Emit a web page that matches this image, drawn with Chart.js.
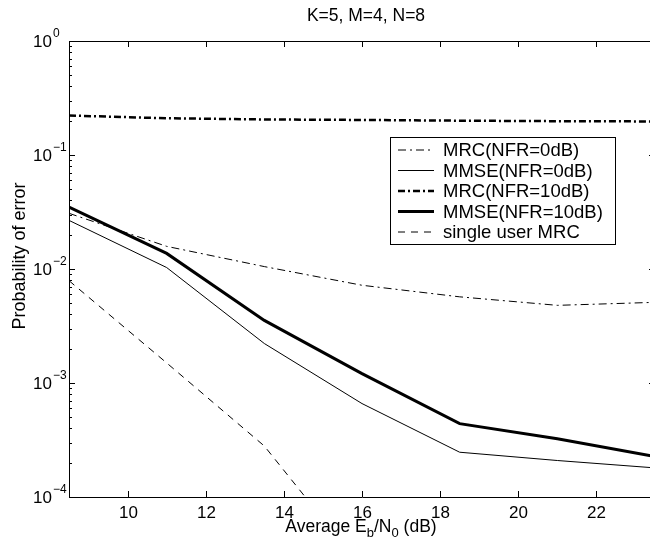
<!DOCTYPE html>
<html>
<head>
<meta charset="utf-8">
<script src="https://cdn.jsdelivr.net/npm/chart.js@4.4.1/dist/chart.umd.min.js"></script>
<style>
  html, body { margin: 0; padding: 0; background: #fff; overflow: hidden; }
  #wrap { width: 662px; height: 540px; }
</style>
</head>
<body>
<div id="wrap"><canvas id="berChart"></canvas></div>
<script>
// Eb/N0 points (dB)
const ebn0 = [8.5, 11, 13.5, 16, 18.5, 21, 23.5];

// probability of error per receiver
const mrcNfr0 = [0.0308, 0.0158, 0.0105, 0.0072, 0.0057, 0.0048, 0.0051];
const mmseNfr0 = [0.0267, 0.0103, 0.00222, 0.00066, 0.000247, 0.000209, 0.00018];
const mrcNfr10 = [0.222, 0.21, 0.205, 0.203, 0.2, 0.198, 0.197];
const mmseNfr10 = [0.0349, 0.0137, 0.00354, 0.00121, 0.00044, 0.000324, 0.000227];
const singleUserMrc = [0.0079, 0.0015, 0.00028, 0.000024, null, null, null];

const seriesLabels = ['MRC(NFR=0dB)', 'MMSE(NFR=0dB)', 'MRC(NFR=10dB)', 'MMSE(NFR=10dB)', 'single user MRC'];

// axis ticks
const xTicks = [10, 12, 14, 16, 18, 20, 22];
const yTicks = [1, 0.1, 0.01, 0.001, 0.0001];
const yExponents = ['0', '\u22121', '\u22122', '\u22123', '\u22124'];

const FONT = '"Liberation Sans", Arial, Helvetica, sans-serif';

function toPoints(vals) {
    return ebn0.map((x, i) => ({ x: x, y: vals[i] }));
}

const styles = [
    { width: 1, dash: [8, 4, 2, 4] },
    { width: 1, dash: [] },
    { width: 2.5, dash: [7, 3, 2, 3] },
    { width: 3, dash: [] },
    { width: 1, dash: [7, 6] }
];

const allSeries = [mrcNfr0, mmseNfr0, mrcNfr10, mmseNfr10, singleUserMrc];

const datasets = allSeries.map((vals, i) => ({
    label: seriesLabels[i],
    data: toPoints(vals),
    borderColor: '#000',
    borderWidth: styles[i].width,
    borderDash: styles[i].dash,
    pointRadius: 0,
    fill: false,
    tension: 0,
    spanGaps: false
}));

// draws the MATLAB-style box, ticks, labels and legend
const matlabAxes = {
    id: 'matlabAxes',
    afterDraw(chart) {
        const ctx = chart.ctx;
        const a = chart.chartArea;
        const xs = chart.scales.x;
        const ys = chart.scales.y;
        ctx.save();
        ctx.strokeStyle = '#000';
        ctx.fillStyle = '#000';
        ctx.lineWidth = 1;

        // box
        ctx.beginPath();
        ctx.rect(a.left + 0.5, a.top + 0.5, a.right - a.left, a.bottom - a.top);
        ctx.stroke();

        // x ticks
        ctx.font = '17px ' + FONT;
        ctx.textAlign = 'center';
        ctx.textBaseline = 'middle';
        xTicks.forEach(v => {
            const px = Math.round(xs.getPixelForValue(v)) + 0.5;
            ctx.beginPath();
            ctx.moveTo(px, a.bottom);
            ctx.lineTo(px, a.bottom - 6);
            ctx.moveTo(px, a.top);
            ctx.lineTo(px, a.top + 6);
            ctx.stroke();
            ctx.fillText(String(v), px, a.bottom + 16);
        });

        // y ticks, major and minor
        for (let d = -4; d < 0; d++) {
            for (let m = 2; m <= 9; m++) {
                const py = Math.round(ys.getPixelForValue(m * Math.pow(10, d))) + 0.5;
                ctx.beginPath();
                ctx.moveTo(a.left, py);
                ctx.lineTo(a.left + 3, py);
                ctx.moveTo(a.right, py);
                ctx.lineTo(a.right - 3, py);
                ctx.stroke();
            }
        }
        yTicks.forEach((v, i) => {
            const py = Math.round(ys.getPixelForValue(v)) + 0.5;
            ctx.beginPath();
            ctx.moveTo(a.left, py);
            ctx.lineTo(a.left + 6, py);
            ctx.moveTo(a.right, py);
            ctx.lineTo(a.right - 6, py);
            ctx.stroke();
            ctx.font = '17px ' + FONT;
            ctx.textAlign = 'right';
            ctx.fillText('10', 52, py + 1);
            ctx.font = '12px ' + FONT;
            ctx.textAlign = 'left';
            ctx.fillText(yExponents[i], 53, py - 8);
        });

        // title
        ctx.font = '17.5px ' + FONT;
        ctx.textAlign = 'center';
        ctx.fillText('K=5, M=4, N=8', (a.left + a.right) / 2 + 4, 16);

        // y axis title
        ctx.save();
        ctx.translate(20, 256);
        ctx.rotate(-Math.PI / 2);
        ctx.font = '18px ' + FONT;
        ctx.fillText('Probability of error', 0, 0);
        ctx.restore();

        // x axis title with subscripts
        const parts = [
            { t: 'Average E', sub: false },
            { t: 'b', sub: true },
            { t: '/N', sub: false },
            { t: '0', sub: true },
            { t: ' (dB)', sub: false }
        ];
        const mainFont = '17.5px ' + FONT;
        const subFont = '13px ' + FONT;
        let total = 0;
        parts.forEach(p => {
            ctx.font = p.sub ? subFont : mainFont;
            p.w = ctx.measureText(p.t).width;
            total += p.w;
        });
        let cx = 361 - total / 2;
        ctx.textAlign = 'left';
        parts.forEach(p => {
            ctx.font = p.sub ? subFont : mainFont;
            ctx.fillText(p.t, cx, p.sub ? 533 : 527);
            cx += p.w;
        });

        // legend
        const lx = 390, ly = 137, lw = 225, lh = 107;
        ctx.fillStyle = '#fff';
        ctx.fillRect(lx, ly, lw, lh);
        ctx.strokeStyle = '#000';
        ctx.lineWidth = 1;
        ctx.strokeRect(lx + 0.5, ly + 0.5, lw, lh);
        ctx.fillStyle = '#000';
        ctx.font = '18.5px ' + FONT;
        ctx.textAlign = 'left';
        seriesLabels.forEach((lab, i) => {
            const rowY = 150 + i * 20.5;
            ctx.beginPath();
            ctx.lineWidth = styles[i].width;
            ctx.setLineDash(styles[i].dash);
            ctx.moveTo(398, rowY);
            ctx.lineTo(434, rowY);
            ctx.stroke();
            ctx.setLineDash([]);
            ctx.fillText(lab, 443, rowY + 1);
        });

        ctx.restore();
    }
};

new Chart(document.getElementById('berChart').getContext('2d'), {
    type: 'line',
    data: { datasets: datasets },
    options: {
        responsive: true,
        maintainAspectRatio: false,
        animation: false,
        layout: {
            padding: { left: 69, top: 41, right: 7, bottom: 43 }
        },
        scales: {
            x: { type: 'linear', min: 8.5, max: 23.5, display: false },
            y: { type: 'logarithmic', min: 0.0001, max: 1, display: false }
        },
        plugins: {
            legend: { display: false },
            title: { display: false },
            tooltip: { enabled: false }
        }
    },
    plugins: [matlabAxes]
});
</script>
</body>
</html>
